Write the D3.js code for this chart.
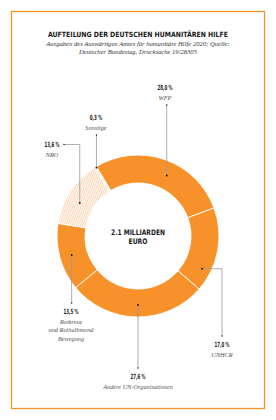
<!DOCTYPE html>
<html>
<head>
<meta charset="utf-8">
<script src="https://cdn.jsdelivr.net/npm/d3@7"></script>
<style>
  body { margin: 0; background: #fff; }
</style>
</head>
<body>
<div id="chart"></div>
<script>
const width = 276;
const height = 420;

const categories = ["WFP", "UNHCR", "Andere UN-Organisationen", "Rotkreuz und Rothalbmond Bewegung", "NRO", "Sonstige"];
const values = [28.0, 17.0, 27.6, 13.5, 13.6, 0.3];
const pctLabels = ["28,0 %", "17,0 %", "27,6 %", "13,5 %", "13,6 %", "0,3 %"];
const nameLines = [["WFP"], ["UNHCR"], ["Andere UN-Organisationen"], ["Rotkreuz", "und Rothalbmond", "Bewegung"], ["NRO"], ["Sonstige"]];
const hatched = [false, false, false, false, true, true];

const orange = "#f7922b";
const cx = 138, cy = 236;
const outerR = 81, innerR = 53;

// label layout: dot angle (deg), dot radius, text x / y, leader kind
const labelLayout = [
  {angle: 25.4, r: 67, tx: 165, ty: 90, path: "v"},
  {angle: 117, r: 72, tx: 222, ty: 347, path: "hv"},
  {angle: 180, r: 69, tx: 138, ty: 379, path: "v"},
  {angle: -106, r: 69, tx: 71, ty: 314, path: "v"},
  {angle: -60.4, r: 67, tx: 52, ty: 147, path: "side"},
  {angle: -31.3, r: 80, tx: 96, ty: 120, path: "v"}
];

var svg = d3.select("#chart")
  .append("svg")
  .attr("width", width)
  .attr("height", height);

// hatch pattern
var defs = svg.append("defs");
var pattern = defs.append("pattern")
  .attr("id", "hatch")
  .attr("patternUnits", "userSpaceOnUse")
  .attr("width", 2)
  .attr("height", 2)
  .attr("patternTransform", "rotate(20)");
pattern.append("rect")
  .attr("width", 2).attr("height", 2).attr("fill", "#fff");
pattern.append("line")
  .attr("x1", 0.5).attr("y1", 0).attr("x2", 0.5).attr("y2", 2)
  .attr("stroke", "#fbbf88").attr("stroke-width", 0.7);

// frame
svg.append("rect")
  .attr("x", 11.5).attr("y", 11.5)
  .attr("width", 253).attr("height", 397)
  .attr("fill", "none")
  .attr("stroke", orange)
  .attr("stroke-width", 1.3);

// title
svg.append("text")
  .attr("x", 138).attr("y", 36.5)
  .attr("text-anchor", "middle")
  .style("font-family", "'DejaVu Sans Condensed', 'DejaVu Sans', sans-serif")
  .style("font-weight", "bold")
  .style("font-size", "7.2px")
  .attr("textLength", 180)
  .attr("lengthAdjust", "spacingAndGlyphs")
  .attr("fill", "#1a1a1a")
  .text("AUFTEILUNG DER DEUTSCHEN HUMANITÄREN HILFE");

const subLines = ["Ausgaben des Auswärtigen Amtes für humanitäre Hilfe 2020; Quelle:", "Deutscher Bundestag, Drucksache 19/28305"];
svg.selectAll(".sub")
  .data(subLines)
  .join("text")
  .attr("class", "sub")
  .attr("x", 138)
  .attr("y", (d, i) => 46 + i * 8)
  .attr("text-anchor", "middle")
  .style("font-family", "'Liberation Serif', serif")
  .style("font-style", "italic")
  .style("font-size", "6.6px")
  .attr("fill", "#333")
  .text(d => d);

// donut
var pie = d3.pie()
  .sort(null)
  .value(d => d)
  .startAngle(-31 * Math.PI / 180)
  .endAngle(329 * Math.PI / 180);

var arc = d3.arc()
  .innerRadius(innerR)
  .outerRadius(outerR);

var arcs = pie(values);

var g = svg.append("g")
  .attr("transform", `translate(${cx}, ${cy})`);

g.selectAll(".slice")
  .data(arcs)
  .join("path")
  .attr("class", "slice")
  .attr("d", arc)
  .attr("fill", (d, i) => hatched[i] ? "url(#hatch)" : orange)
  .attr("stroke", "#fff")
  .attr("stroke-width", 0.9);

// centre text
const centreLines = ["2.1 MILLIARDEN", "EURO"];
const centreWidths = [54, 19];
svg.selectAll(".centre")
  .data(centreLines)
  .join("text")
  .attr("class", "centre")
  .attr("x", cx)
  .attr("y", (d, i) => 235 + i * 8.5)
  .attr("text-anchor", "middle")
  .style("font-family", "'DejaVu Sans Condensed', 'DejaVu Sans', sans-serif")
  .style("font-weight", "bold")
  .style("font-size", "7.6px")
  .attr("textLength", (d, i) => centreWidths[i])
  .attr("lengthAdjust", "spacingAndGlyphs")
  .attr("fill", "#1a1a1a")
  .text(d => d);

// leader lines and labels
function polar(angleDeg, r) {
  var a = angleDeg * Math.PI / 180;
  return [cx + r * Math.sin(a), cy - r * Math.cos(a)];
}

labelLayout.forEach(function (l, i) {
  var p = polar(l.angle, l.r);
  var pts;
  var isAbove = l.ty < cy;
  var endY = isAbove ? l.ty + 15 : l.ty - 11;
  if (l.path === "v") {
    pts = [[p[0], p[1]], [p[0], endY]];
  } else if (l.path === "side") {
    pts = [[p[0], p[1]], [p[0], l.ty - 2.5], [l.tx + 12, l.ty - 2.5]];
  } else {
    pts = [[p[0], p[1]], [l.tx, p[1]], [l.tx, endY]];
  }
  svg.append("path")
    .attr("d", d3.line()(pts))
    .attr("fill", "none")
    .attr("stroke", "#9a9a9a")
    .attr("stroke-width", 0.8);
  svg.append("circle")
    .attr("cx", p[0]).attr("cy", p[1])
    .attr("r", 0.9)
    .attr("fill", "#111");
  svg.append("circle")
    .attr("cx", pts[pts.length - 1][0]).attr("cy", pts[pts.length - 1][1])
    .attr("r", 0.7)
    .attr("fill", "#111");

  var pctText = svg.append("text")
    .attr("x", l.tx).attr("y", l.ty)
    .attr("text-anchor", "middle")
    .style("font-family", "'DejaVu Sans Condensed', 'DejaVu Sans', sans-serif")
    .style("font-weight", "bold")
    .style("font-size", "7.2px")
    .attr("fill", "#1a1a1a")
    .text(pctLabels[i]);
  pctText.attr("textLength", pctLabels[i].length === 5 ? 12.5 : 15)
    .attr("lengthAdjust", "spacingAndGlyphs");

  svg.append("text")
    .attr("x", l.tx).attr("y", l.ty + 9.5)
    .attr("text-anchor", "middle")
    .style("font-family", "'Liberation Serif', serif")
    .style("font-style", "italic")
    .style("font-size", "6.3px")
    .attr("fill", "#555")
    .selectAll("tspan")
    .data(nameLines[i])
    .join("tspan")
    .attr("x", l.tx)
    .attr("dy", (d, j) => j === 0 ? 0 : 8.5)
    .text(d => d);
});
</script>
</body>
</html>
